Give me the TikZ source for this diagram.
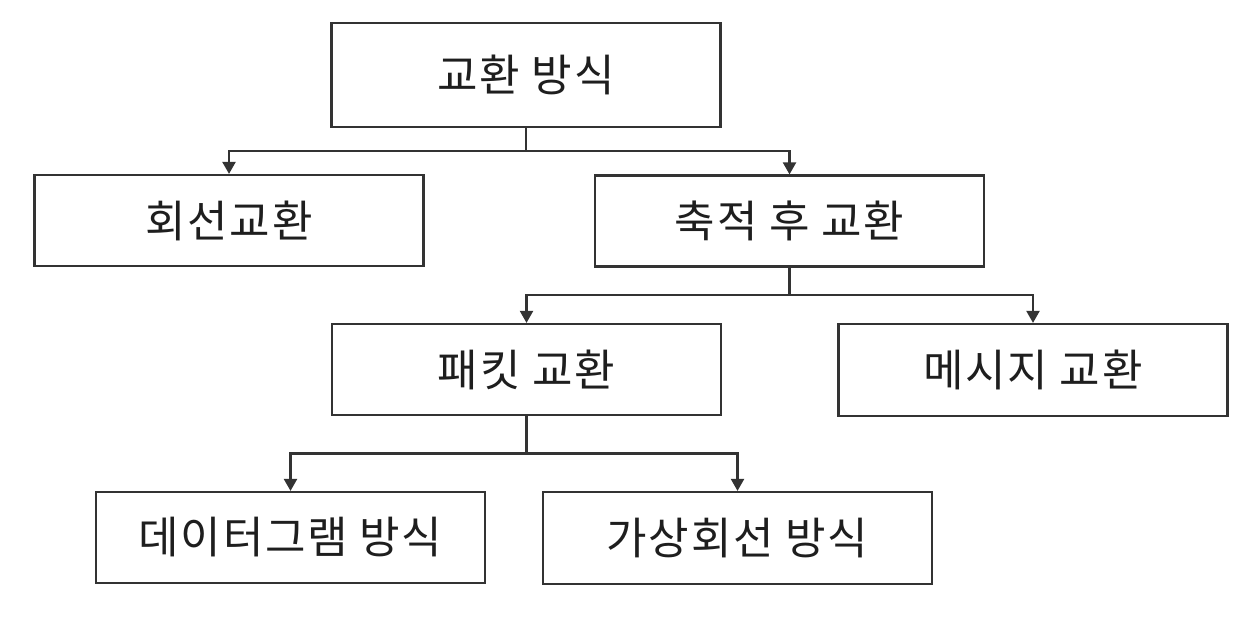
\documentclass[tikz,border=0pt]{standalone}
\usepackage{fontspec}
\newfontfamily\krfont[LetterSpace=4]{Noto Sans CJK KR}
\usetikzlibrary{calc,arrows.meta}
\definecolor{linegray}{HTML}{333333}
\definecolor{textgray}{HTML}{1E1E1E}
\tikzset{
  box/.style={draw=linegray, line width=1.1pt, rectangle, inner sep=0pt,
    minimum width=194.5pt, minimum height=45.5pt, text=textgray,
    font=\krfont\fontsize{22}{26}\selectfont},
  arr/.style={draw=linegray, line width=1.1pt,
    -{Triangle[length=6pt,width=6.5pt]}},
}
\begin{document}
\begin{tikzpicture}[x=0.5pt,y=-0.5pt]
\useasboundingbox (0,0) rectangle (1252,616);
\node[box, minimum height=52pt] (top) at (526,75) {교환 방식};
\node[box] (circ) at (229,220.5) {회선교환};
\node[box] (store) at (789.5,221) {축적 후 교환};
\node[box] (pkt) at (526.5,369.5) {패킷 교환};
\node[box, minimum height=46pt] (msg) at (1033,370) {메시지 교환};
\node[box] (dgram) at (290.5,537.5) {데이터그램 방식};
\node[box, minimum height=46pt] (vc) at (737.5,538) {가상회선 방식};
\coordinate (j1) at ($(top.south)!0.5!(circ.north)$);
\coordinate (j2) at ($(store.south)!0.5!(pkt.north)$);
\coordinate (j3) at ($(pkt.south)!0.5!(dgram.north)$);
\draw[arr] (top.south) -- (top.south |- j1) -| (circ.north);
\draw[arr] (top.south) -- (top.south |- j1) -| (store.north);
\draw[arr] (store.south) -- (store.south |- j2) -| (pkt.north);
\draw[arr] (store.south) -- (store.south |- j2) -| (msg.north);
\draw[arr] (pkt.south) -- (pkt.south |- j3) -| (dgram.north);
\draw[arr] (pkt.south) -- (pkt.south |- j3) -| (vc.north);
\end{tikzpicture}
\end{document}
